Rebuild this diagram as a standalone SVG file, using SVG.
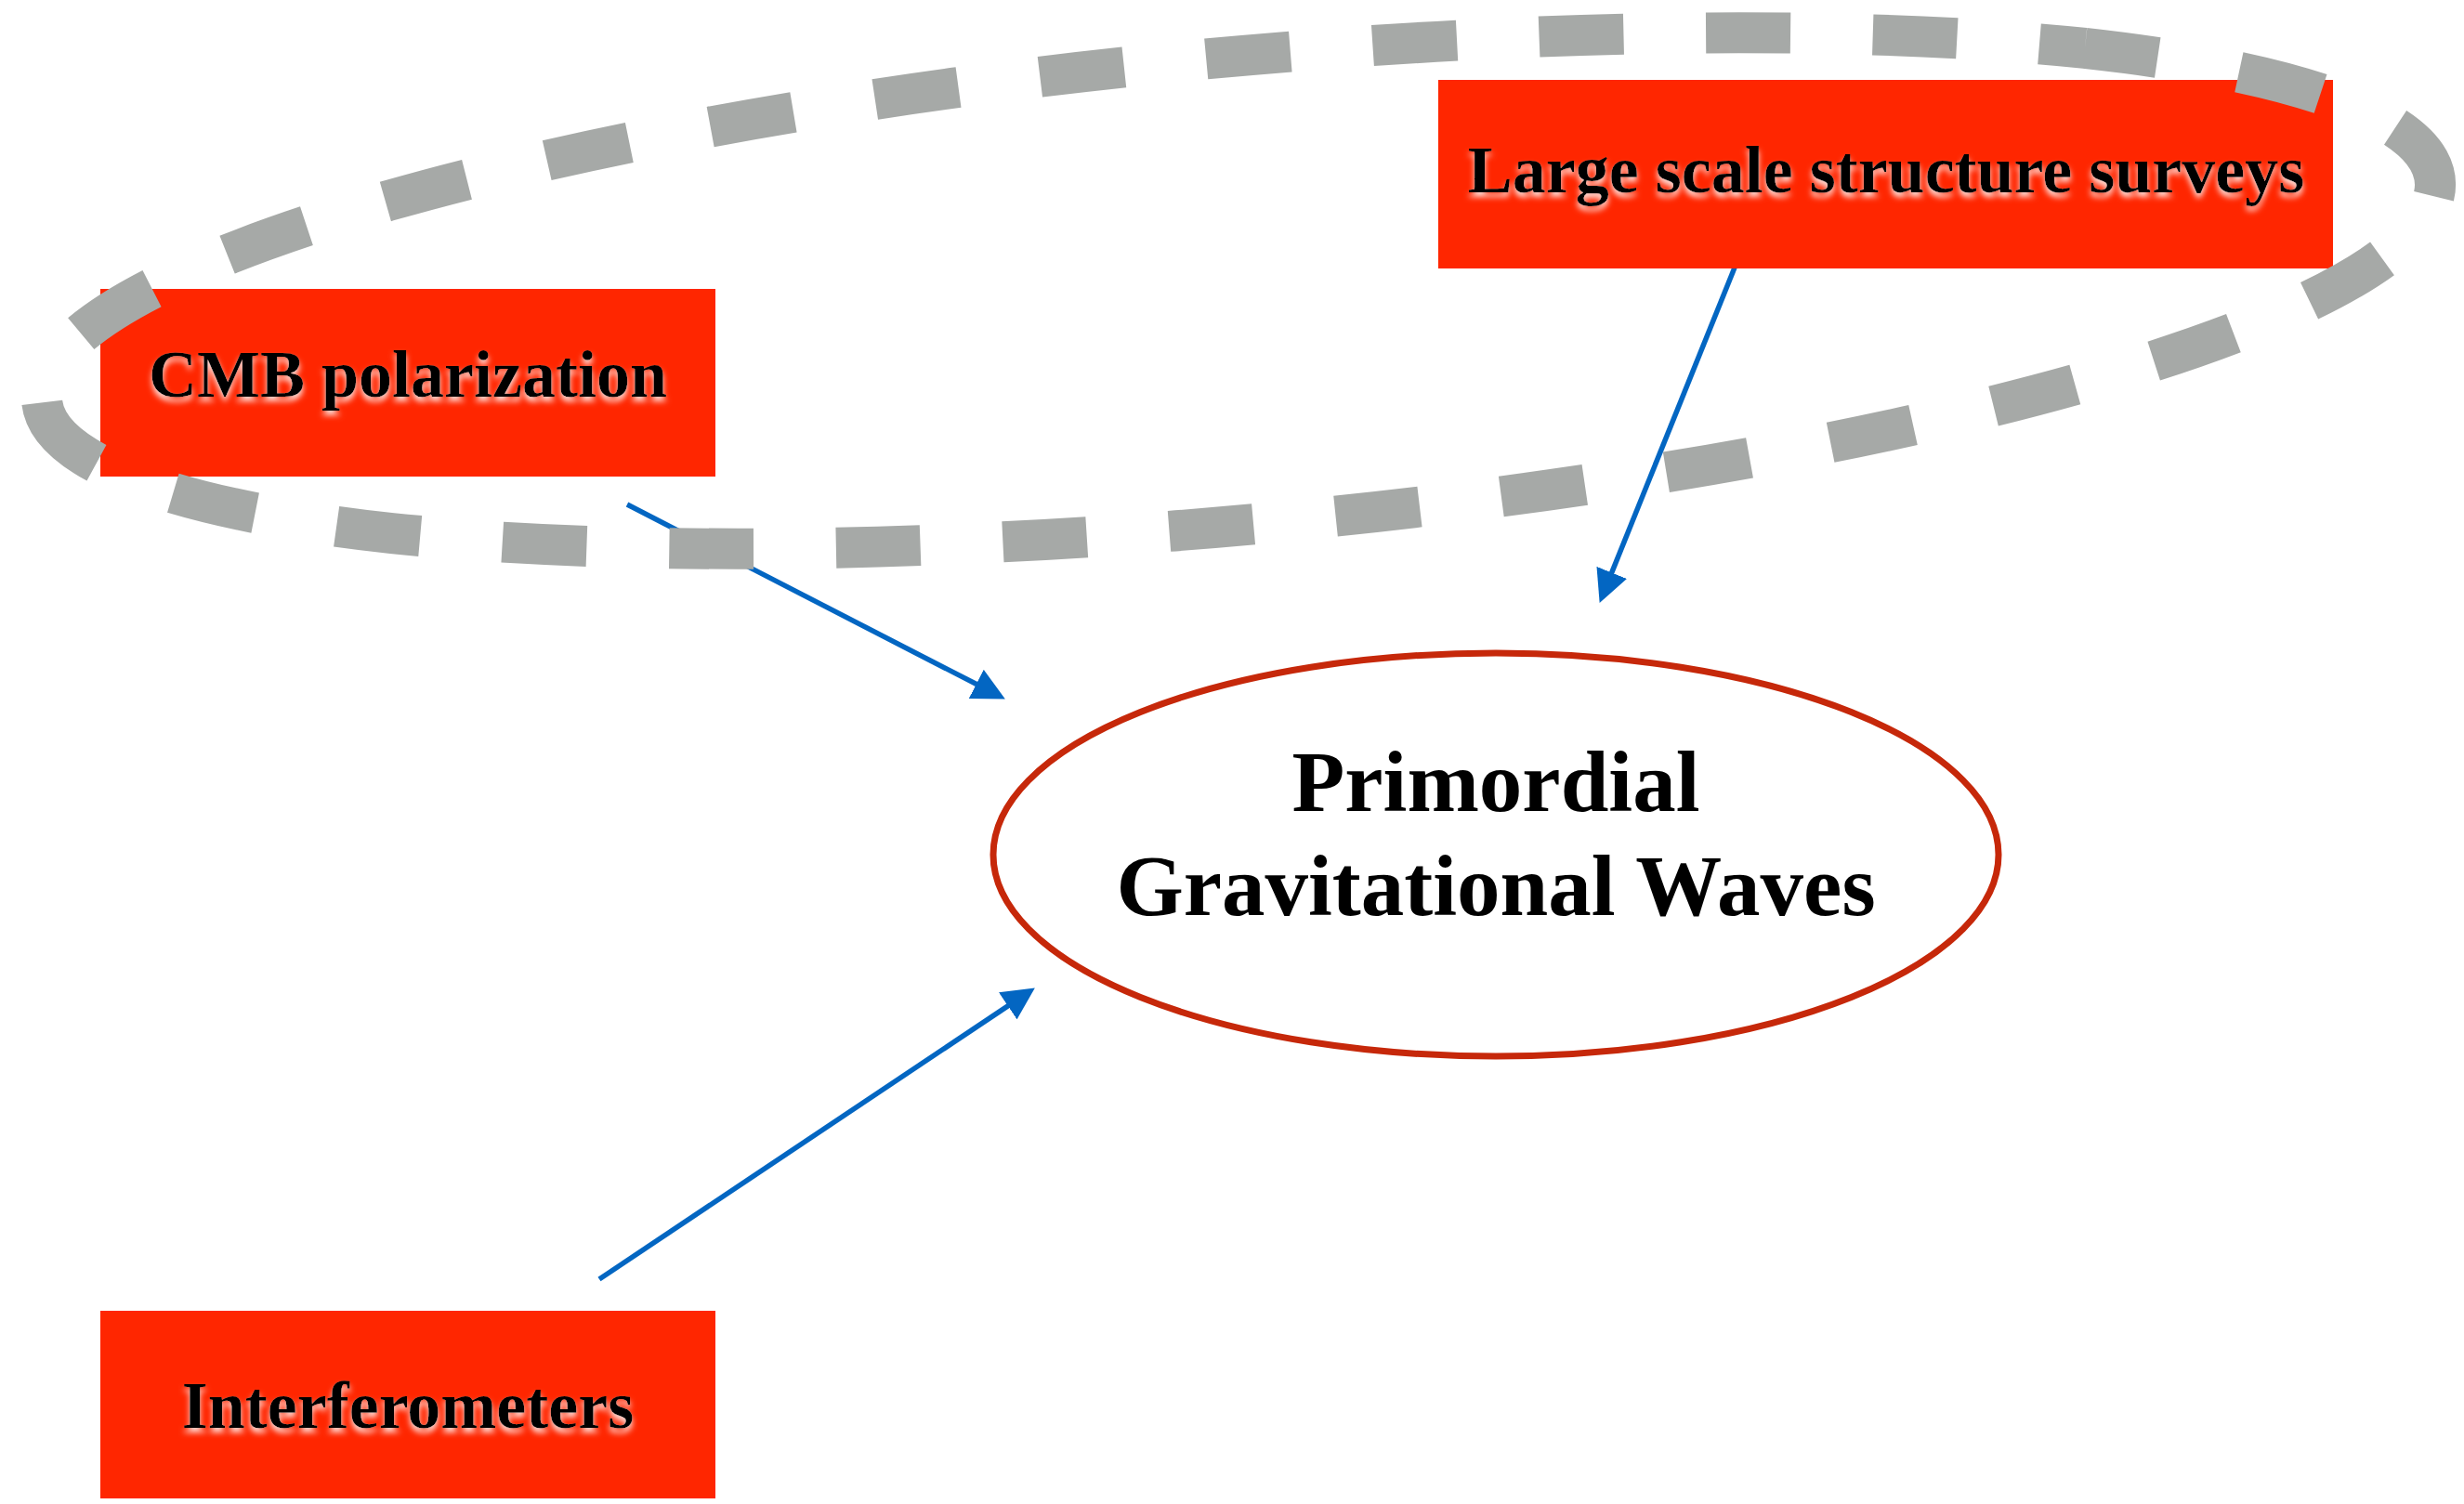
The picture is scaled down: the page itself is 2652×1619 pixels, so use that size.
<svg xmlns="http://www.w3.org/2000/svg" width="2652" height="1619" viewBox="0 0 2652 1619">
  <style>
    .box { fill: #FF2600; }
    .boxtext { font-family: "Liberation Serif", "Times New Roman", serif; font-weight: bold; font-size: 72px; fill: #000; text-anchor: middle; filter: url(#glow); }
    .maintext { font-family: "Liberation Serif", "Times New Roman", serif; font-weight: bold; font-size: 93px; fill: #000; text-anchor: middle; }
    .conn { stroke: #0366C2; stroke-width: 5.5; fill: none; marker-end: url(#arrow); }
    .dashed { fill: none; stroke: #A6A9A7; stroke-width: 44; stroke-dasharray: 92 90; stroke-dashoffset: 12; }
  </style>
  <defs>
    <filter id="glow" x="-10%" y="-30%" width="120%" height="170%">
      <feDropShadow dx="0" dy="5" stdDeviation="3" flood-color="#FFFFFF" flood-opacity="0.85"/>
    </filter>
    <marker id="arrow" markerUnits="userSpaceOnUse" markerWidth="35" markerHeight="35" refX="14" refY="17.5" orient="auto">
      <path d="M0,0 L35,17.5 L0,35 z" fill="#0366C2"/>
    </marker>
  </defs>
  <rect width="2652" height="1619" fill="#FFFFFF"/>

  <g id="connectors">
    <line class="conn" x1="675" y1="543" x2="1063.2" y2="742.8"/>
    <line class="conn" x1="1867" y1="288" x2="1729.5" y2="629.4"/>
    <line class="conn" x1="645" y1="1377" x2="1096.4" y2="1075.1"/>
  </g>

  <g id="node-cmb">
    <rect class="box" x="108" y="311" width="662" height="202"/>
    <text class="boxtext" x="439" y="427">CMB polarization</text>
  </g>

  <g id="node-lss">
    <rect class="box" x="1548" y="86" width="963" height="203"/>
    <text class="boxtext" x="2030" y="207">Large scale structure surveys</text>
  </g>

  <g id="node-interferometers">
    <rect class="box" x="108" y="1411" width="662" height="202"/>
    <text class="boxtext" x="439" y="1537">Interferometers</text>
  </g>

  <g id="node-pgw">
    <ellipse cx="1610" cy="920" rx="541" ry="217" fill="#FFFFFF" stroke="#C6280A" stroke-width="7"/>
    <text class="maintext" x="1610" y="873">Primordial</text>
    <text class="maintext" x="1610" y="985">Gravitational Waves</text>
  </g>

  <g id="dashed-group">
    <path class="dashed" transform="translate(1333,313) rotate(-5.17)" pathLength="5498"
          d="M930.8,-178 A1305,254 0 0 1 -930.8,178 A1305,254 0 0 1 930.8,-178"/>
  </g>
</svg>
